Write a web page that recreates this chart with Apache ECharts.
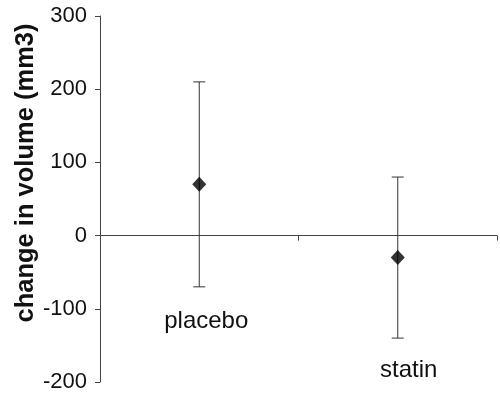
<!DOCTYPE html>
<html>
<head>
<meta charset="utf-8">
<script src="https://cdn.jsdelivr.net/npm/echarts@6/dist/echarts.min.js"></script>
<style>
html,body{margin:0;padding:0;background:#fff;}
#chart{width:500px;height:395px;}
</style>
</head>
<body>
<div id="chart"></div>
<script>
var categories = ['placebo', 'statin'];
var means = [70, -30];
var upperValues = [210, 80];
var lowerValues = [-70, -140];
var yTicks = [-200, -100, 0, 100, 200, 300];
var yTitle = 'change in volume (mm3)';

var FONT = '"Liberation Sans", Arial, sans-serif';
var chart = echarts.init(document.getElementById('chart'));

var errData = categories.map(function (c, i) { return [i, lowerValues[i], upperValues[i]]; });

chart.setOption({
  animation: false,
  backgroundColor: '#fff',
  grid: { left: 100, right: 3, top: 16, bottom: 13, containLabel: false, outerBoundsMode: 'none' },
  xAxis: {
    type: 'category',
    data: categories,
    boundaryGap: true,
    axisLine: { onZero: true, lineStyle: { color: '#444', width: 1 } },
    axisTick: { show: true, length: 5, inside: false, lineStyle: { color: '#444' } },
    axisLabel: {
      margin: -73,
      interval: 0,
      color: '#111',
      fontFamily: FONT,
      fontSize: 24,
      formatter: function (v, i) { return i === 0 ? '{a|' + v + '}' : '{b|' + v + '}'; },
      rich: {
        a: { fontFamily: FONT, fontSize: 24, color: '#111', padding: [0, 0, 0, 14] },
        b: { fontFamily: FONT, fontSize: 24, color: '#111', padding: [49, 0, 0, 22] }
      }
    },
    splitLine: { show: false }
  },
  yAxis: {
    type: 'value',
    min: yTicks[0],
    max: yTicks[yTicks.length - 1],
    interval: 100,
    axisLine: { show: true, lineStyle: { color: '#444', width: 1 } },
    axisTick: { show: true, length: 5, inside: false, lineStyle: { color: '#444' } },
    axisLabel: { margin: 13, color: '#111', fontFamily: FONT, fontSize: 22 },
    splitLine: { show: false },
    name: yTitle,
    nameLocation: 'middle',
    nameRotate: 90,
    nameGap: 61,
    nameMoveOverlap: false,
    nameTextStyle: { fontFamily: FONT, fontSize: 25.5, fontWeight: 'bold', color: '#111', padding: [0, 0, 0, 52] }
  },
  series: [
    {
      type: 'custom',
      data: errData,
      z: 2,
      renderItem: function (params, api) {
        var x = api.value(0);
        var lo = api.coord([x, api.value(1)]);
        var hi = api.coord([x, api.value(2)]);
        var hw = 6;
        var st = { stroke: '#333', lineWidth: 1 };
        return {
          type: 'group',
          children: [
            { type: 'line', shape: { x1: lo[0], y1: lo[1], x2: hi[0], y2: hi[1] }, style: st },
            { type: 'line', shape: { x1: lo[0] - hw, y1: lo[1], x2: lo[0] + hw, y2: lo[1] }, style: st },
            { type: 'line', shape: { x1: hi[0] - hw, y1: hi[1], x2: hi[0] + hw, y2: hi[1] }, style: st }
          ]
        };
      }
    },
    {
      type: 'scatter',
      data: means,
      symbol: 'diamond',
      symbolSize: [14, 15],
      itemStyle: { color: '#000' },
      z: 3
    }
  ]
});
</script>
</body>
</html>
